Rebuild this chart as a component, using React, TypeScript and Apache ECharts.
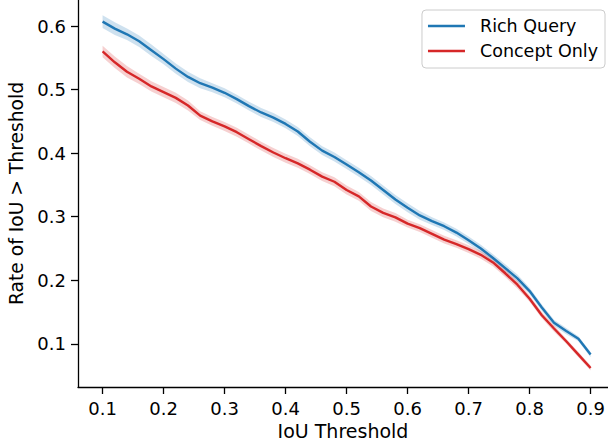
import React, { useEffect, useRef } from "react";
import * as echarts from "echarts";

const thresholds = [
  0.10, 0.12, 0.14, 0.16, 0.18, 0.20, 0.22, 0.24, 0.26, 0.28,
  0.30, 0.32, 0.34, 0.36, 0.38, 0.40, 0.42, 0.44, 0.46, 0.48,
  0.50, 0.52, 0.54, 0.56, 0.58, 0.60, 0.62, 0.64, 0.66, 0.68,
  0.70, 0.72, 0.74, 0.76, 0.78, 0.80, 0.82, 0.84, 0.86, 0.88, 0.90,
];

const richQuery = [
  0.607, 0.596, 0.587, 0.576, 0.562, 0.548, 0.533, 0.520, 0.510, 0.503,
  0.495, 0.485, 0.474, 0.464, 0.456, 0.446, 0.434, 0.418, 0.404, 0.394,
  0.382, 0.370, 0.357, 0.342, 0.327, 0.314, 0.302, 0.293, 0.285, 0.275,
  0.263, 0.250, 0.235, 0.219, 0.203, 0.183, 0.157, 0.133, 0.120, 0.108, 0.083,
];

const conceptOnly = [
  0.560, 0.543, 0.528, 0.517, 0.505, 0.496, 0.487, 0.475, 0.459, 0.450,
  0.442, 0.433, 0.422, 0.411, 0.401, 0.392, 0.384, 0.374, 0.363, 0.355,
  0.342, 0.332, 0.316, 0.306, 0.299, 0.289, 0.282, 0.273, 0.264, 0.257,
  0.249, 0.240, 0.228, 0.211, 0.193, 0.171, 0.145, 0.124, 0.104, 0.083, 0.062,
];

// half-width of the confidence band around each line
const richQueryCi = [
  0.010, 0.010, 0.009, 0.009, 0.009, 0.008, 0.008, 0.008, 0.008, 0.007,
  0.007, 0.007, 0.007, 0.007, 0.007, 0.007, 0.007, 0.007, 0.007, 0.007,
  0.007, 0.007, 0.007, 0.007, 0.007, 0.007, 0.007, 0.006, 0.006, 0.006,
  0.006, 0.006, 0.006, 0.006, 0.006, 0.005, 0.005, 0.005, 0.005, 0.004, 0.004,
];

const conceptOnlyCi = [
  0.009, 0.009, 0.009, 0.008, 0.008, 0.008, 0.008, 0.008, 0.007, 0.007,
  0.007, 0.007, 0.007, 0.007, 0.007, 0.007, 0.007, 0.007, 0.007, 0.007,
  0.007, 0.007, 0.007, 0.007, 0.007, 0.006, 0.006, 0.006, 0.006, 0.006,
  0.006, 0.006, 0.006, 0.006, 0.006, 0.005, 0.005, 0.005, 0.004, 0.004, 0.004,
];

const xTicks = [0.1, 0.2, 0.3, 0.4, 0.5, 0.6, 0.7, 0.8, 0.9];
const yTicks = [0.1, 0.2, 0.3, 0.4, 0.5, 0.6];

const seriesNames = ["Rich Query", "Concept Only"];
const colors = ["#1f77b4", "#d62728"];
const bandColors = ["rgba(31,119,180,0.22)", "rgba(214,39,40,0.22)"];

const FONT = "DejaVu Sans";

function bandSeries(values: number[], ci: number[], color: string) {
  return {
    type: "custom",
    silent: true,
    z: 1,
    data: [0],
    renderItem: (_params: any, api: any) => {
      const upper = thresholds.map((x, i) => api.coord([x, values[i] + ci[i]]));
      const lower = thresholds
        .map((x, i) => api.coord([x, values[i] - ci[i]]))
        .reverse();
      return {
        type: "polygon",
        shape: { points: upper.concat(lower) },
        style: { fill: color, stroke: "none" },
      };
    },
  };
}

function lineSeries(name: string, values: number[], color: string) {
  return {
    type: "line",
    name,
    z: 3,
    showSymbol: false,
    symbol: "none",
    data: thresholds.map((x, i) => [x, values[i]]),
    lineStyle: { color, width: 2.4 },
    itemStyle: { color },
  };
}

export default function App() {
  const ref = useRef<HTMLDivElement>(null);
  useEffect(() => {
    if (!ref.current) return;
    const chart = echarts.init(ref.current, null, { renderer: "svg" });
    const axisText = { color: "#000", fontFamily: FONT, fontSize: 18 };
    chart.setOption({
      animation: false,
      backgroundColor: "#fff",
      grid: {
        left: 78,
        right: 0,
        top: 0,
        bottom: 61,
        containLabel: false,
        outerBoundsMode: "none",
      },
      legend: {
        orient: "vertical",
        right: 3,
        top: 10,
        padding: [6, 7, 7, 6],
        itemWidth: 37,
        itemHeight: 2.5,
        itemGap: 5,
        icon: "rect",
        backgroundColor: "rgba(255,255,255,0.8)",
        borderColor: "#cccccc",
        borderWidth: 1,
        borderRadius: 4,
        data: seriesNames,
        textStyle: {
          color: "#000",
          fontFamily: FONT,
          fontSize: 17.5,
          lineHeight: 20,
          padding: [0, 0, 0, 10],
        },
      },
      xAxis: {
        type: "value",
        min: 0.0597,
        max: 0.9285,
        name: "IoU Threshold",
        nameLocation: "middle",
        nameGap: 34,
        nameTextStyle: { color: "#000", fontFamily: FONT, fontSize: 19 },
        axisLine: { show: true, lineStyle: { color: "#000", width: 1.3 } },
        axisTick: {
          show: true,
          length: 7,
          customValues: xTicks,
          lineStyle: { color: "#000", width: 1.3 },
        },
        axisLabel: {
          ...axisText,
          margin: 12,
          customValues: xTicks,
          formatter: (v: number) => v.toFixed(1),
        },
        splitLine: { show: false },
      },
      yAxis: {
        type: "value",
        min: 0.032,
        max: 0.641,
        name: "Rate of IoU > Threshold",
        nameLocation: "middle",
        nameGap: 46,
        nameRotate: 90,
        nameTextStyle: { color: "#000", fontFamily: FONT, fontSize: 18.7 },
        axisLine: { show: true, lineStyle: { color: "#000", width: 1.3 } },
        axisTick: {
          show: true,
          length: 7,
          customValues: yTicks,
          lineStyle: { color: "#000", width: 1.3 },
        },
        axisLabel: {
          ...axisText,
          margin: 12,
          customValues: yTicks,
          formatter: (v: number) => v.toFixed(1),
        },
        splitLine: { show: false },
      },
      series: [
        bandSeries(richQuery, richQueryCi, bandColors[0]),
        bandSeries(conceptOnly, conceptOnlyCi, bandColors[1]),
        lineSeries(seriesNames[0], richQuery, colors[0]),
        lineSeries(seriesNames[1], conceptOnly, colors[1]),
      ],
    });
    return () => chart.dispose();
  }, []);
  return (
    <div
      ref={ref}
      style={{ position: "absolute", left: 0, top: 0, width: 608, height: 448 }}
    />
  );
}
